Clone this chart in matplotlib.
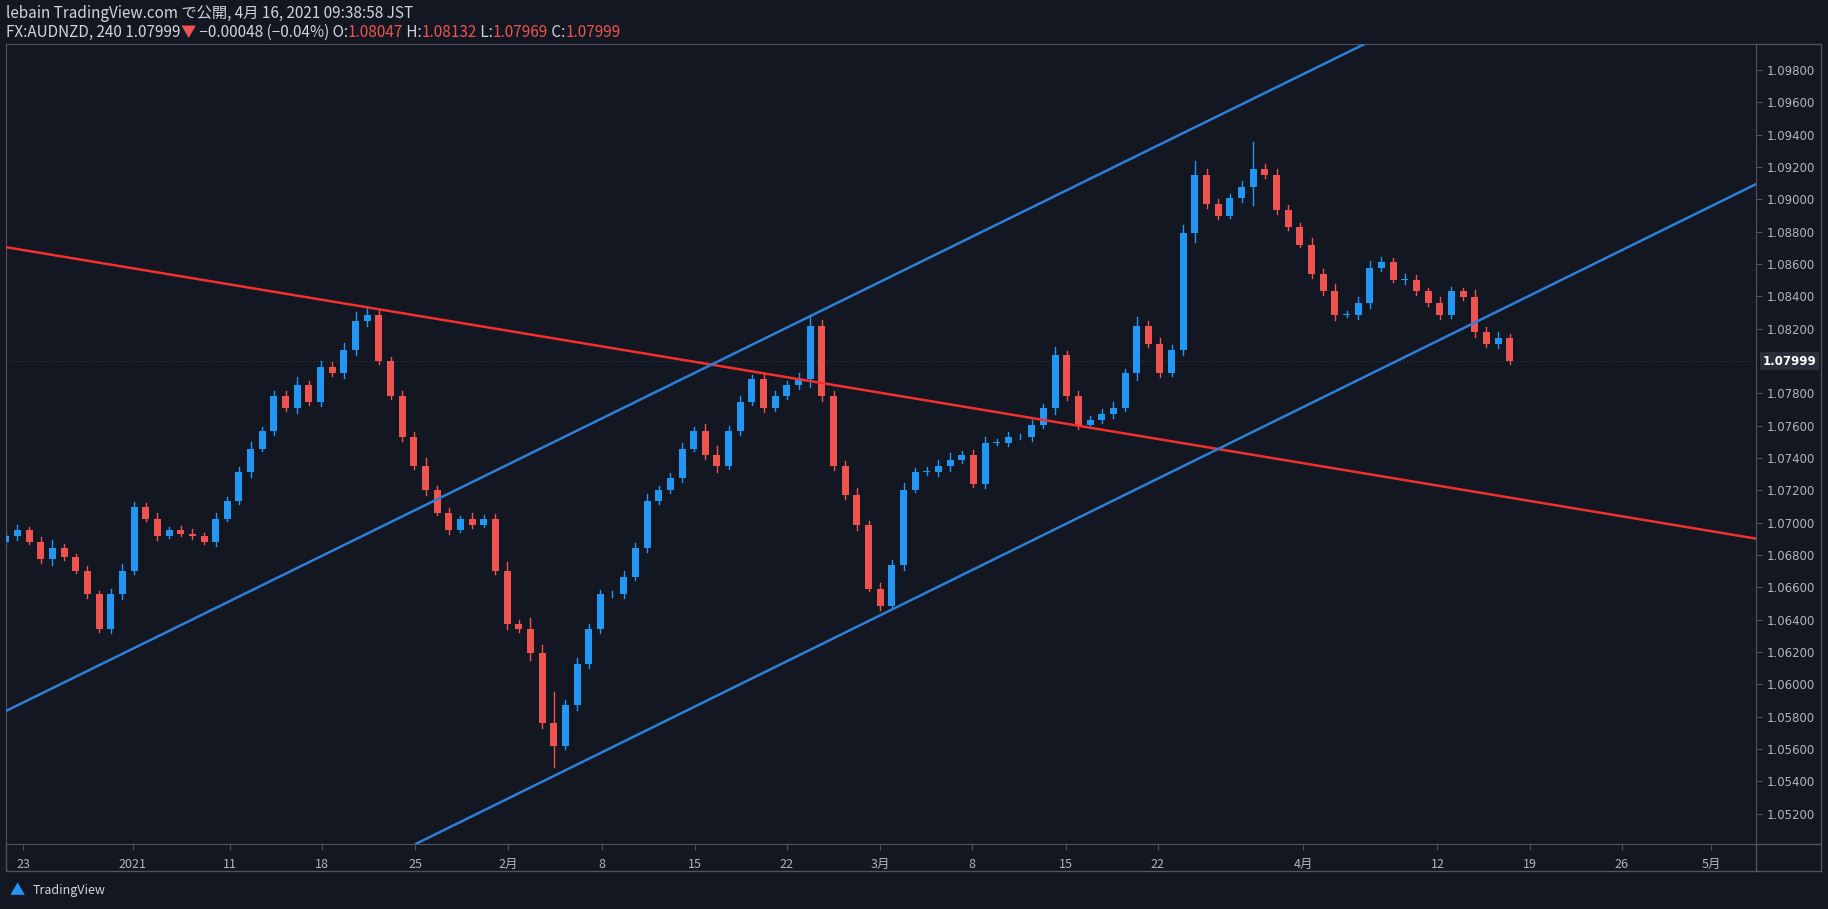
import matplotlib
matplotlib.use("Agg")
import matplotlib.pyplot as plt
from matplotlib.patches import Rectangle
from matplotlib.lines import Line2D

# ---- data ----
closes = [1.06916,1.06952,1.06880,1.06772,1.06844,1.06786,1.06700,1.06555,1.06339,1.06555,
          1.06700,1.07096,1.07024,1.06916,1.06952,1.06930,1.06916,1.06880,1.07024,1.07132,
          1.07313,1.07457,1.07565,1.07781,1.07709,1.07853,1.07745,1.07961,1.07925,1.08070,
          1.08250,1.08286,1.07998,1.07781,1.07529,1.07349,1.07204,1.07060,1.06952,1.07024,
          1.06988,1.07024,1.06700,1.06375,1.06339,1.06195,1.05762,1.05618,1.05871,1.06123,
          1.06339,1.06555,1.06555,1.06664,1.06844,1.07132,1.07204,1.07277,1.07457,1.07565,
          1.07421,1.07349,1.07565,1.07745,1.07889,1.07709,1.07781,1.07853,1.07889,1.08214,
          1.07781,1.07349,1.07168,1.06988,1.06592,1.06483,1.06736,1.07204,1.07313,1.07313,
          1.07349,1.07385,1.07421,1.07240,1.07493,1.07493,1.07529,1.07529,1.07601,1.07709,
          1.08034,1.07781,1.07601,1.07637,1.07673,1.07709,1.07925,1.08214,1.08106,1.07925,
          1.08070,1.08791,1.09151,1.08971,1.08899,1.09007,1.09079,1.09187,1.09151,1.08935,
          1.08827,1.08719,1.08538,1.08430,1.08286,1.08286,1.08358,1.08574,1.08610,1.08502,
          1.08502,1.08430,1.08358,1.08286,1.08430,1.08394,1.08178,1.08106,1.08142,1.07999]
wicks = [4,6,3,5,8,4,3,5,4,6,7,5,4,6,3,4,5,3,6,4,5,7,4,6,5,8,4,6,5,7,
         9,9,5,4,6,5,8,4,5,3,6,4,5,9,4,12,8,32,5,7,6,5,4,6,5,7,4,5,6,4,
         7,9,5,6,4,6,5,4,6,12,7,6,5,8,4,6,5,7,4,5,6,8,4,5,6,4,5,3,6,4,
         9,5,6,4,5,6,4,10,5,6,5,8,14,6,5,4,6,28,5,6,5,4,7,5,8,4,6,7,5,4,
         6,5,4,6,5,4,7,5,6,4]
first_open = 1.06880
red_line = [(5, 1.08704), (1506, 1.06901)]
blue_upper = [(5, 1.05834), (1170, 1.09959)]
blue_lower = [(357, 1.05013), (1506, 1.09093)]
xtick_pos = [20,114,197,276,356,436,516,596,675,755,834,914,993,1118,1233,1312,1391,1468]
xtick_lab = ["23","2021","11","18","25","2月","8","15","22","3月","8","15","22","4月","12","19","26","5月"]
ytick_vals = [1.052,1.054,1.056,1.058,1.060,1.062,1.064,1.066,1.068,1.070,1.072,1.074,1.076,1.078,
              1.082,1.084,1.086,1.088,1.090,1.092,1.094,1.096,1.098]
last_price = 1.07999

BG = "#131722"; TXT = "#B2B5BE"; UP = "#2196F3"; DN = "#EF5350"; BORDER = "#50535E"
plt.rcParams["font.family"] = ["Noto Sans CJK JP"]

W, H = 1568, 780  # reference display units
fig = plt.figure(figsize=(18.28, 9.09), dpi=100, facecolor=BG)
L, R, T, B = 5, 1506, 38, 724
ax = fig.add_axes([L/W, 1-B/H, (R-L)/W, (B-T)/H], facecolor=BG)
ax.set_xlim(L, R)
ax.set_ylim(1.05013, 1.09959)

x0, dx, bw = 5, 10, 6
prev = first_open
for i, c in enumerate(closes):
    x = x0 + dx*i
    o = prev
    col = UP if c >= o else DN
    w = wicks[i]*0.0001
    hi, lo = max(o, c) + w*0.6, min(o, c) - w*0.4
    ax.plot([x, x], [lo, hi], color=col, lw=1, zorder=2)
    ax.add_patch(Rectangle((x-bw/2, min(o, c)), bw, max(abs(c-o), 0.00003), color=col, zorder=3, lw=0))
    prev = c

for pts, col in [(red_line, "#F23030"), (blue_upper, "#2D7FD8"), (blue_lower, "#2D7FD8")]:
    ax.plot([p[0] for p in pts], [p[1] for p in pts], color=col, lw=1.8, zorder=4)
ax.axhline(last_price, color="#3A3E4A", lw=0.8, ls=(0, (1, 2)), zorder=1)

for s in ax.spines.values():
    s.set_color(BORDER)
ax.yaxis.tick_right()
ax.set_yticks(ytick_vals)
ax.set_yticklabels([f"{v:.5f}" for v in ytick_vals], color=TXT, fontsize=8.5, family="DejaVu Sans")
ax.tick_params(axis="y", colors=BORDER, labelcolor=TXT, length=4, pad=4)
ax.set_xticks(xtick_pos)
ax.set_xticklabels(xtick_lab, color=TXT, fontsize=9)
ax.tick_params(axis="x", colors=BORDER, labelcolor=TXT, length=4, pad=6)
ax.text(1.004, last_price, "1.07999", transform=ax.get_yaxis_transform(), color="white",
        fontsize=8.5, fontweight="bold", family="DejaVu Sans", va="center", ha="left",
        bbox=dict(facecolor="#2A2E39", edgecolor="none", pad=2), zorder=10)

def fl(xs, ys):
    fig.add_artist(Line2D([x/W for x in xs], [1-y/H for y in ys], color=BORDER, lw=1))
fl([1506, 1562, 1562, 5, 5], [38, 38, 747, 747, 724])
fl([1506, 1506], [724, 747])
fl([1506, 1562], [724, 724])

fig.text(5/W, 1-12/H, "lebain TradingView.com で公開, 4月 16, 2021 09:38:58 JST", color="#D1D4DC",
         fontsize=11, va="center")
parts = [("FX:AUDNZD, 240 1.07999", "#D1D4DC"), ("▼", DN), (" −0.00048 (−0.04%) O:", "#D1D4DC"),
         ("1.08047", DN), (" H:", "#D1D4DC"), ("1.08132", DN), (" L:", "#D1D4DC"), ("1.07969", DN),
         (" C:", "#D1D4DC"), ("1.07999", DN)]
fig.canvas.draw()
r = fig.canvas.get_renderer()
xx = 5/W
for s, c in parts:
    t = fig.text(xx, 1-28/H, s, color=c, fontsize=11, va="center")
    bb = t.get_window_extent(r)
    xx += bb.width/fig.bbox.width
fig.text(28/W, 1-764/H, "TradingView", color="#D1D4DC", fontsize=9, va="center")
fig.text(8/W, 1-764/H, "▲", color=UP, fontsize=11, va="center")

fig.savefig("out.png", dpi=100, facecolor=BG)
